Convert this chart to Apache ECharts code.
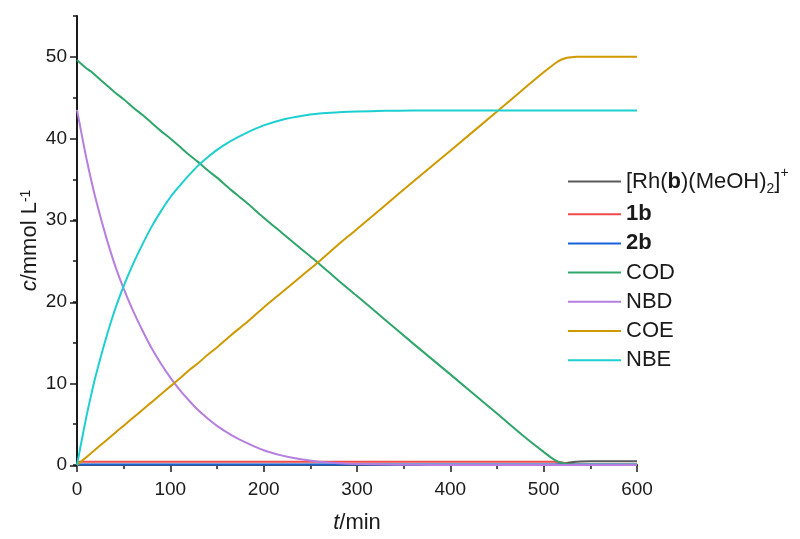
<!DOCTYPE html>
<html>
<head>
<meta charset="utf-8">
<script src="https://cdn.jsdelivr.net/npm/echarts@6/dist/echarts.min.js"></script>
<style>html,body{margin:0;padding:0;background:#fff}#c{width:800px;height:539px}</style>
</head>
<body>
<div id="c"></div>
<script>
const seriesNames = ['Rh', '1b', '2b', 'COD', 'NBD', 'COE', 'NBE'];
const t = [0,5,10,15,20,30,40,50,60,70,80,90,100,110,120,130,140,150,165,180,200,220,240,260,280,300,330,360,400,450,480,500,510,515,520,525,530,535,540,550,570,600];
const rh = [0.02,0.02,0.02,0.02,0.02,0.02,0.02,0.02,0.02,0.02,0.02,0.02,0.02,0.02,0.02,0.02,0.02,0.02,0.02,0.02,0.02,0.02,0.02,0.02,0.02,0.02,0.02,0.02,0.02,0.02,0.02,0.02,0.02,0.05,0.12,0.25,0.34,0.39,0.42,0.45,0.46,0.46];
const b1 = [0.4,0.4,0.4,0.4,0.4,0.4,0.4,0.4,0.4,0.4,0.4,0.4,0.4,0.4,0.4,0.4,0.4,0.4,0.4,0.4,0.4,0.4,0.4,0.4,0.4,0.4,0.4,0.4,0.4,0.4,0.4,0.4,0.4,0.37,0.3,0.15,0.06,0.03,0.02,0.02,0.02,0.02];
const b2 = [0.05,0.05,0.05,0.05,0.05,0.05,0.05,0.05,0.05,0.05,0.05,0.05,0.05,0.05,0.05,0.05,0.05,0.05,0.05,0.05,0.05,0.05,0.05,0.05,0.05,0.05,0.05,0.05,0.05,0.05,0.05,0.05,0.05,0.05,0.05,0.05,0.05,0.05,0.05,0.05,0.05,0.05];
const cod = [49.6,49.1,48.6,48.2,47.7,46.7,45.7,44.8,43.8,42.9,41.9,40.9,40.0,39.0,38.0,37.1,36.1,35.2,33.7,32.3,30.3,28.4,26.5,24.6,22.6,20.7,17.8,14.9,11.1,6.3,3.4,1.6,0.75,0.45,0.25,0.12,0.06,0.04,0.03,0.02,0.02,0.02];
const nbd = [43.5,40.5,37.6,35.0,32.6,28.4,24.7,21.6,18.9,16.5,14.3,12.4,10.7,9.2,7.9,6.7,5.7,4.8,3.7,2.8,1.8,1.15,0.7,0.4,0.22,0.12,0.05,0.02,0.01,0.01,0.01,0.01,0.01,0.01,0.01,0.01,0.01,0.01,0.01,0.01,0.01,0.01];
const coe = [0,0.48,0.96,1.44,1.93,2.89,3.85,4.82,5.78,6.74,7.70,8.67,9.63,10.6,11.6,12.5,13.5,14.4,15.9,17.3,19.3,21.2,23.1,25.0,27.0,28.9,31.8,34.7,38.5,43.3,46.2,48.1,49.0,49.4,49.7,49.88,49.96,50.0,50.0,50.0,50.0,50.0];
const nbe = [0,3.0,5.9,8.5,10.9,15.1,18.8,21.9,24.6,27.0,29.2,31.1,32.8,34.2,35.5,36.7,37.7,38.6,39.7,40.6,41.6,42.3,42.75,43.05,43.2,43.3,43.38,43.42,43.43,43.43,43.43,43.43,43.43,43.43,43.43,43.43,43.43,43.43,43.43,43.43,43.43,43.43];
const xTicks = [0,100,200,300,400,500,600];
const yTicks = [0,10,20,30,40,50];

const colors = ['#5a5a5a','#f04a4a','#1a62d8','#2fa66a','#b57fe0','#cf9a00','#1ecfcf'];
const values = [rh,b1,b2,cod,nbd,coe,nbe];
const legendText = {
  'Rh': '[Rh({b|b})(MeOH){sub|2}]{sup|+}',
  '1b': '{b|1b}',
  '2b': '{b|2b}',
  'COD': 'COD','NBD': 'NBD','COE': 'COE','NBE': 'NBE'
};

const chart = echarts.init(document.getElementById('c'), null, {renderer: 'canvas'});
const axisCol = '#1a1a1a';
const font = 'Arial, "Liberation Sans", sans-serif';
const lf = 22;

chart.setOption({
  animation: false,
  backgroundColor: '#fff',
  textStyle: {fontFamily: font},
  grid: [
    {left: 77, right: 163, top: 16, bottom: 73},
    {left: 77, right: 163, top: 56.9, bottom: 73}
  ],
  legend: {
    orient: 'vertical',
    left: 563,
    top: 161.5,
    itemWidth: 53,
    itemHeight: 14,
    itemGap: 6.2,
    data: seriesNames.map((n, i) => ({name: n, icon: 'path://M0,6 L53,6 L53,8 L0,8 Z', itemStyle: {color: colors[i]}})),
    formatter: n => legendText[n],
    textStyle: {
      fontSize: lf, color: '#1a1a1a', fontFamily: font, lineHeight: 23,
      rich: {
        b: {fontWeight: 'bold', fontSize: lf, fontFamily: font, color: '#1a1a1a', lineHeight: 23},
        sub: {fontSize: 14, fontFamily: font, color: '#1a1a1a', verticalAlign: 'bottom', padding: [10,0,0,0], lineHeight: 30},
        sup: {fontSize: 14, fontFamily: font, color: '#1a1a1a', verticalAlign: 'top', padding: [0,0,8,0], lineHeight: 30}
      }
    }
  },
  xAxis: [{
    gridIndex: 0, type: 'value', min: 0, max: 600, interval: 100,
    name: '{i|t}/min', nameLocation: 'middle', nameGap: 47, nameMoveOverlap: false,
    nameTextStyle: {fontSize: 22, color: '#1a1a1a', fontFamily: font, rich: {i: {fontStyle: 'italic', fontSize: 22, fontFamily: font, color: '#1a1a1a'}}},
    axisLine: {show: true, lineStyle: {color: axisCol, width: 2}},
    axisTick: {show: true, inside: false, length: 7, lineStyle: {color: axisCol, width: 1.5}},
    minorTick: {show: true, splitNumber: 2, length: 4, lineStyle: {color: axisCol, width: 1.5}},
    axisLabel: {fontSize: 19, color: '#1a1a1a', margin: 15, fontFamily: font},
    splitLine: {show: false}
  }, {
    gridIndex: 1, type: 'value', min: 0, max: 600, show: false
  }],
  yAxis: [{
    gridIndex: 0, type: 'value', min: 0, max: 55, interval: 5,
    name: '{i|c}/mmol L{sup|-1}', nameLocation: 'middle', nameGap: 36, nameRotate: 90, nameMoveOverlap: false,
    nameTextStyle: {fontSize: 22, color: '#1a1a1a', fontFamily: font, rich: {
      i: {fontStyle: 'italic', fontSize: 22, fontFamily: font, color: '#1a1a1a'},
      sup: {fontSize: 14, fontFamily: font, color: '#1a1a1a', verticalAlign: 'top', padding: [0,0,8,0]}
    }},
    axisLine: {show: true, lineStyle: {color: axisCol, width: 2}},
    axisTick: {show: true, inside: false, length: 4, lineStyle: {color: axisCol, width: 1.5}},
    axisLabel: {fontSize: 19, color: '#1a1a1a', margin: 10, fontFamily: font,
      formatter: v => (yTicks.indexOf(v) >= 0 ? String(v) : '')},
    splitLine: {show: false}
  }, {
    gridIndex: 1, type: 'value', min: 0, max: 50, interval: 10,
    axisLine: {show: false},
    axisTick: {show: true, inside: false, length: 7, lineStyle: {color: axisCol, width: 1.5}},
    axisLabel: {show: false},
    splitLine: {show: false}
  }],
  series: seriesNames.map((n, i) => ({
    name: n, type: 'line', xAxisIndex: 0, yAxisIndex: 0,
    symbol: 'none', smooth: 0.3,
    lineStyle: {color: colors[i], width: 2},
    itemStyle: {color: colors[i]},
    data: t.map((x, k) => [x, values[i][k]]),
    z: 2 + i
  }))
});
</script>
</body>
</html>
